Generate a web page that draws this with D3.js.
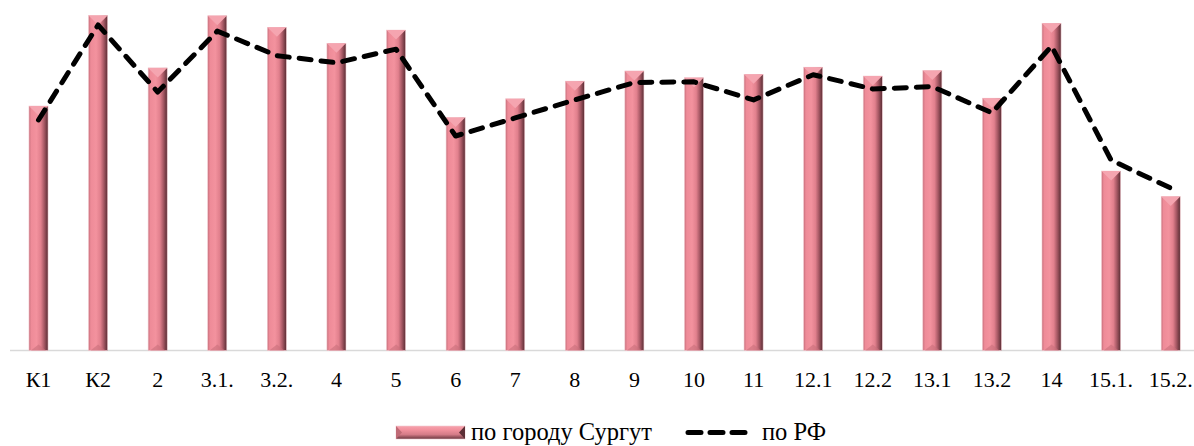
<!DOCTYPE html>
<html>
<head>
<meta charset="utf-8">
<script src="https://cdn.jsdelivr.net/npm/d3@7"></script>
<style>
  html, body { margin: 0; padding: 0; background: #fff; }
  svg { display: block; }
  svg text { font-family: "Liberation Serif", "Times New Roman", Times, "DejaVu Serif", serif; font-size: 22px; fill: #000; }
  svg text.leg { font-size: 24.5px; }
</style>
</head>
<body>
<svg id="chart" width="1194" height="446"></svg>
<script>
const categories = ["К1","К2","2","3.1.","3.2.","4","5","6","7","8","9","10","11","12.1","12.2","13.1","13.2","14","15.1.","15.2."];
const surgutValues = [71.8, 98.4, 83.0, 98.3, 94.9, 90.2, 94.1, 68.4, 73.9, 79.1, 82.1, 80.1, 81.1, 83.2, 80.6, 82.2, 74.1, 96.1, 52.7, 45.2];
const rfValues = [67.7, 95.6, 75.9, 93.8, 86.6, 84.5, 88.5, 63.0, 68.3, 73.6, 78.7, 78.9, 73.6, 81.0, 76.8, 77.5, 69.8, 89.4, 55.9, 47.7];
const seriesNames = ["по городу Сургут", "по РФ"];

const svg = d3.select("#chart");
const W = 1194, H = 446;
const baseY = 350.5;

const x = d3.scaleBand().domain(categories).range([8.7, 1200.5]).paddingInner(0.68).paddingOuter(0.34);
const y = d3.scaleLinear().domain([0, 100]).range([baseY, 10]);

const defs = svg.append("defs");
const gH = defs.append("linearGradient").attr("id", "barGrad").attr("x1", "0").attr("x2", "1").attr("y1", "0").attr("y2", "0");
[["0%", "#c66f7b"], ["12%", "#ee8b98"], ["40%", "#f3929e"], ["62%", "#e1808d"], ["80%", "#a65864"], ["100%", "#582c33"]]
  .forEach(([o, c]) => gH.append("stop").attr("offset", o).attr("stop-color", c));
const gV = defs.append("linearGradient").attr("id", "legGrad").attr("x1", "0").attr("x2", "0").attr("y1", "0").attr("y2", "1");
[["0%", "#f7a3ae"], ["30%", "#f1909c"], ["65%", "#d57c88"], ["100%", "#6a353d"]]
  .forEach(([o, c]) => gV.append("stop").attr("offset", o).attr("stop-color", c));

// axis line
svg.append("line").attr("x1", 10).attr("x2", W).attr("y1", baseY).attr("y2", baseY)
  .attr("stroke", "#d9d9d9").attr("stroke-width", 1.5);

// bars
const bw = x.bandwidth();
const bars = svg.append("g").selectAll("g").data(categories).join("g");
bars.append("rect")
  .attr("x", d => x(d))
  .attr("y", (d, i) => y(surgutValues[i]))
  .attr("width", bw)
  .attr("height", (d, i) => baseY - y(surgutValues[i]))
  .attr("fill", "url(#barGrad)")
  .attr("stroke", "#f2c9cf").attr("stroke-width", 0.6);
bars.append("path")
  .attr("d", (d, i) => {
    const x0 = x(d), x1 = x0 + bw, t = y(surgutValues[i]);
    return `M${x0},${t}L${x1},${t}L${x0 + bw / 2},${t + 9.5}Z`;
  })
  .attr("fill", "#f5a5b0");
bars.append("path")
  .attr("d", (d, i) => {
    const x0 = x(d), x1 = x0 + bw, b = baseY;
    return `M${x0 + 2},${b}L${x1 - 2},${b}L${x0 + bw / 2},${b - 6}Z`;
  })
  .attr("fill", "#c9707c").attr("opacity", 0.6);

// x labels
svg.append("g").selectAll("text").data(categories).join("text")
  .attr("x", d => x(d) + bw / 2)
  .attr("y", 387)
  .attr("text-anchor", "middle")
  .text(d => d);

// line
const line = d3.line().x((d, i) => x(categories[i]) + bw / 2).y(d => y(d));
svg.append("path").datum(rfValues)
  .attr("d", line)
  .attr("fill", "none")
  .attr("stroke", "#000")
  .attr("stroke-width", 5)
  .attr("stroke-linecap", "round")
  .attr("stroke-linejoin", "round")
  .attr("stroke-dasharray", "12,10");

// legend
const leg = svg.append("g");
leg.append("rect").attr("x", 396).attr("y", 426).attr("width", 69).attr("height", 13)
  .attr("fill", "url(#legGrad)").attr("stroke", "#f2c9cf").attr("stroke-width", 0.6);
leg.append("path").attr("d", "M396,426L402,432.5L396,439Z").attr("fill", "#c06a76");
leg.append("path").attr("d", "M465,426L459,432.5L465,439Z").attr("fill", "#5c2f36");
leg.append("text").attr("class", "leg").attr("x", 471).attr("y", 440).text(seriesNames[0]);
leg.append("line").attr("x1", 688).attr("x2", 748).attr("y1", 432.5).attr("y2", 432.5)
  .attr("stroke", "#000").attr("stroke-width", 5).attr("stroke-linecap", "round")
  .attr("stroke-dasharray", "13,9");
leg.append("text").attr("class", "leg").attr("x", 762).attr("y", 440).text(seriesNames[1]);
</script>
</body>
</html>
